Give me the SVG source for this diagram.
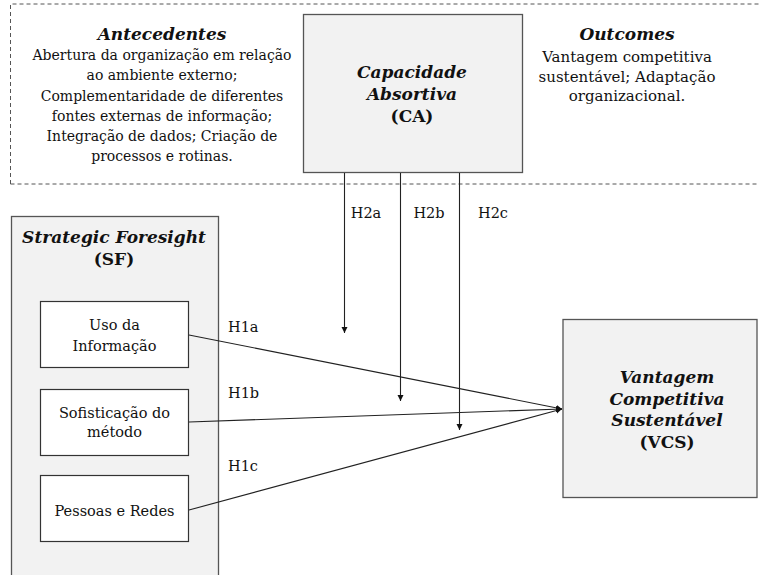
<svg xmlns="http://www.w3.org/2000/svg" width="759" height="575" viewBox="0 0 759 575">
<style>
text{font-family:"DejaVu Serif","Liberation Serif",serif;fill:#111;text-anchor:middle}
.t{font-size:14.5px}
.a{font-size:14px}
.o{font-size:15px}
.h{font-size:17px;font-weight:bold;font-style:italic}
.hb{font-size:17px;font-weight:bold}
.gray{fill:#f2f2f2;stroke:#555;stroke-width:1.3}
.white{fill:#fff;stroke:#333;stroke-width:1.2}
.c{stroke:#222;stroke-width:1.1;fill:none}
</style>
<defs>
<marker id="ah" markerWidth="8" markerHeight="8" refX="6" refY="3" orient="auto" markerUnits="userSpaceOnUse">
<path d="M0,0 L6,3 L0,6 Z" fill="#111"/>
</marker>
</defs>
<rect width="759" height="575" fill="#fff"/>
<g id="context">
<path d="M10.5,184 V4 H759 M10.5,184 H759" fill="none" stroke="#555" stroke-width="1" stroke-dasharray="4,3"/>
</g>
<g id="antecedentes">
<text class="h" x="162" y="40">Antecedentes</text>
<text class="a" x="162" y="60">Abertura da organização em relação</text>
<text class="a" x="162" y="80">ao ambiente externo;</text>
<text class="a" x="162" y="101">Complementaridade de diferentes</text>
<text class="a" x="162" y="121">fontes externas de informação;</text>
<text class="a" x="162" y="141">Integração de dados; Criação de</text>
<text class="a" x="162" y="161">processos e rotinas.</text>
</g>
<g id="outcomes">
<text class="h" x="627" y="40">Outcomes</text>
<text class="o" x="627" y="62">Vantagem competitiva</text>
<text class="o" x="627" y="82">sustentável; Adaptação</text>
<text class="o" x="627" y="101">organizacional.</text>
</g>
<g id="ca">
<rect class="gray" x="303.5" y="14.5" width="219" height="158"/>
<text class="h" x="412" y="78">Capacidade</text>
<text class="h" x="412" y="100">Absortiva</text>
<text class="hb" x="412" y="122">(CA)</text>
</g>
<g id="sf">
<rect class="gray" x="11.5" y="216.5" width="207" height="370"/>
<text class="h" x="114" y="243">Strategic Foresight</text>
<text class="hb" x="114" y="265">(SF)</text>
</g>
<g id="uso">
<rect class="white" x="40.5" y="301.5" width="148" height="66"/>
<text class="t" x="114.5" y="330">Uso da</text>
<text class="t" x="114.5" y="351">Informação</text>
</g>
<g id="sofisticacao">
<rect class="white" x="40.5" y="389.5" width="148" height="66"/>
<text class="t" x="114.5" y="418">Sofisticação do</text>
<text class="t" x="114.5" y="437">método</text>
</g>
<g id="pessoas">
<rect class="white" x="40.5" y="475.5" width="148" height="66"/>
<text class="t" x="114.5" y="516">Pessoas e Redes</text>
</g>
<g id="vcs">
<rect class="gray" x="563" y="319.5" width="194" height="178"/>
<text class="h" x="667" y="383">Vantagem</text>
<text class="h" x="667" y="405">Competitiva</text>
<text class="h" x="667" y="426">Sustentável</text>
<text class="hb" x="667" y="448">(VCS)</text>
</g>
<g id="connectors">
<path class="c" d="M344.5,173 V333" marker-end="url(#ah)"/>
<path class="c" d="M400.5,173 V401" marker-end="url(#ah)"/>
<path class="c" d="M459.5,173 V430" marker-end="url(#ah)"/>
<path class="c" d="M189,335 L562,409" marker-end="url(#ah)"/>
<path class="c" d="M189,422 L562,409" marker-end="url(#ah)"/>
<path class="c" d="M189,510 L562,409" marker-end="url(#ah)"/>
<text class="t" x="366" y="218">H2a</text>
<text class="t" x="429" y="218">H2b</text>
<text class="t" x="493" y="218">H2c</text>
<text class="t" x="228" y="332" style="text-anchor:start">H1a</text>
<text class="t" x="228" y="398" style="text-anchor:start">H1b</text>
<text class="t" x="228" y="471" style="text-anchor:start">H1c</text>
</g>
</svg>
